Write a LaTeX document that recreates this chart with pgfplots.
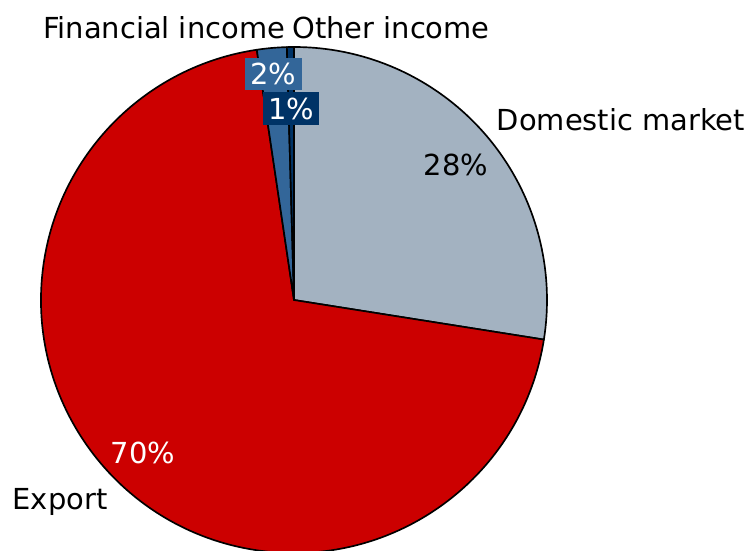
\documentclass[border=0pt]{standalone}
\usepackage{fontspec}
\setmainfont{DejaVu Sans}
\usepackage{pgfplots}
\pgfplotsset{compat=1.18}
\usepackage{pgfplotstable}

\definecolor{c0}{HTML}{A3B2C1}
\definecolor{c1}{HTML}{CC0000}
\definecolor{c2}{HTML}{336699}
\definecolor{c3}{HTML}{003366}

% shares in percent, clockwise from 12 o'clock
\pgfplotstableread{
name value
Domestic 27.5
Export 70.15
Financial 1.9
Other 0.45
}\piedata

% start / end angle of each slice
\xdef\cum{90}
\foreach \i in {0,...,3}{%
  \pgfplotstablegetelem{\i}{value}\of\piedata
  \pgfmathsetmacro\e{\cum-3.6*\pgfplotsretval}%
  \expandafter\xdef\csname s\i\endcsname{\cum}%
  \expandafter\xdef\csname e\i\endcsname{\e}%
  \xdef\cum{\e}%
}

\newcommand\pieR{189.75pt}% 253 px
\newcommand\slice[1]{%
  \filldraw[fill=c#1, draw=black, line width=1.25pt, line join=round]
    (axis cs:294,250) -- ++(\csname s#1\endcsname:\pieR)
    arc[start angle=\csname s#1\endcsname, end angle=\csname e#1\endcsname, radius=\pieR] -- cycle;}

\begin{document}
\fontsize{21.7}{25}\selectfont
\begin{tikzpicture}
\begin{axis}[
  x=0.75pt, y=0.75pt,
  xmin=0, xmax=749, ymin=0, ymax=550,
  hide axis,
  clip=true,
]
\pgfplotsinvokeforeach{0,1,2,3}{\slice{#1}}

\node at (axis cs:164,522) {Financial income};
\node at (axis cs:391,522) {Other income};
\node at (axis cs:621,430) {Domestic market};
\node at (axis cs:60,48) {Export};

\node at (axis cs:456,385) {28\%};
\node[text=white] at (axis cs:143,97) {70\%};
\node[fill=c2, text=white, inner xsep=4pt, inner ysep=4pt] at (axis cs:273.5,476) {2\%};
\node[fill=c3, text=white, inner xsep=4pt, inner ysep=4pt] at (axis cs:291,441.5) {1\%};
\end{axis}
\pgfresetboundingbox
\path (current axis.south west) rectangle (current axis.north east);
\end{tikzpicture}
\end{document}
